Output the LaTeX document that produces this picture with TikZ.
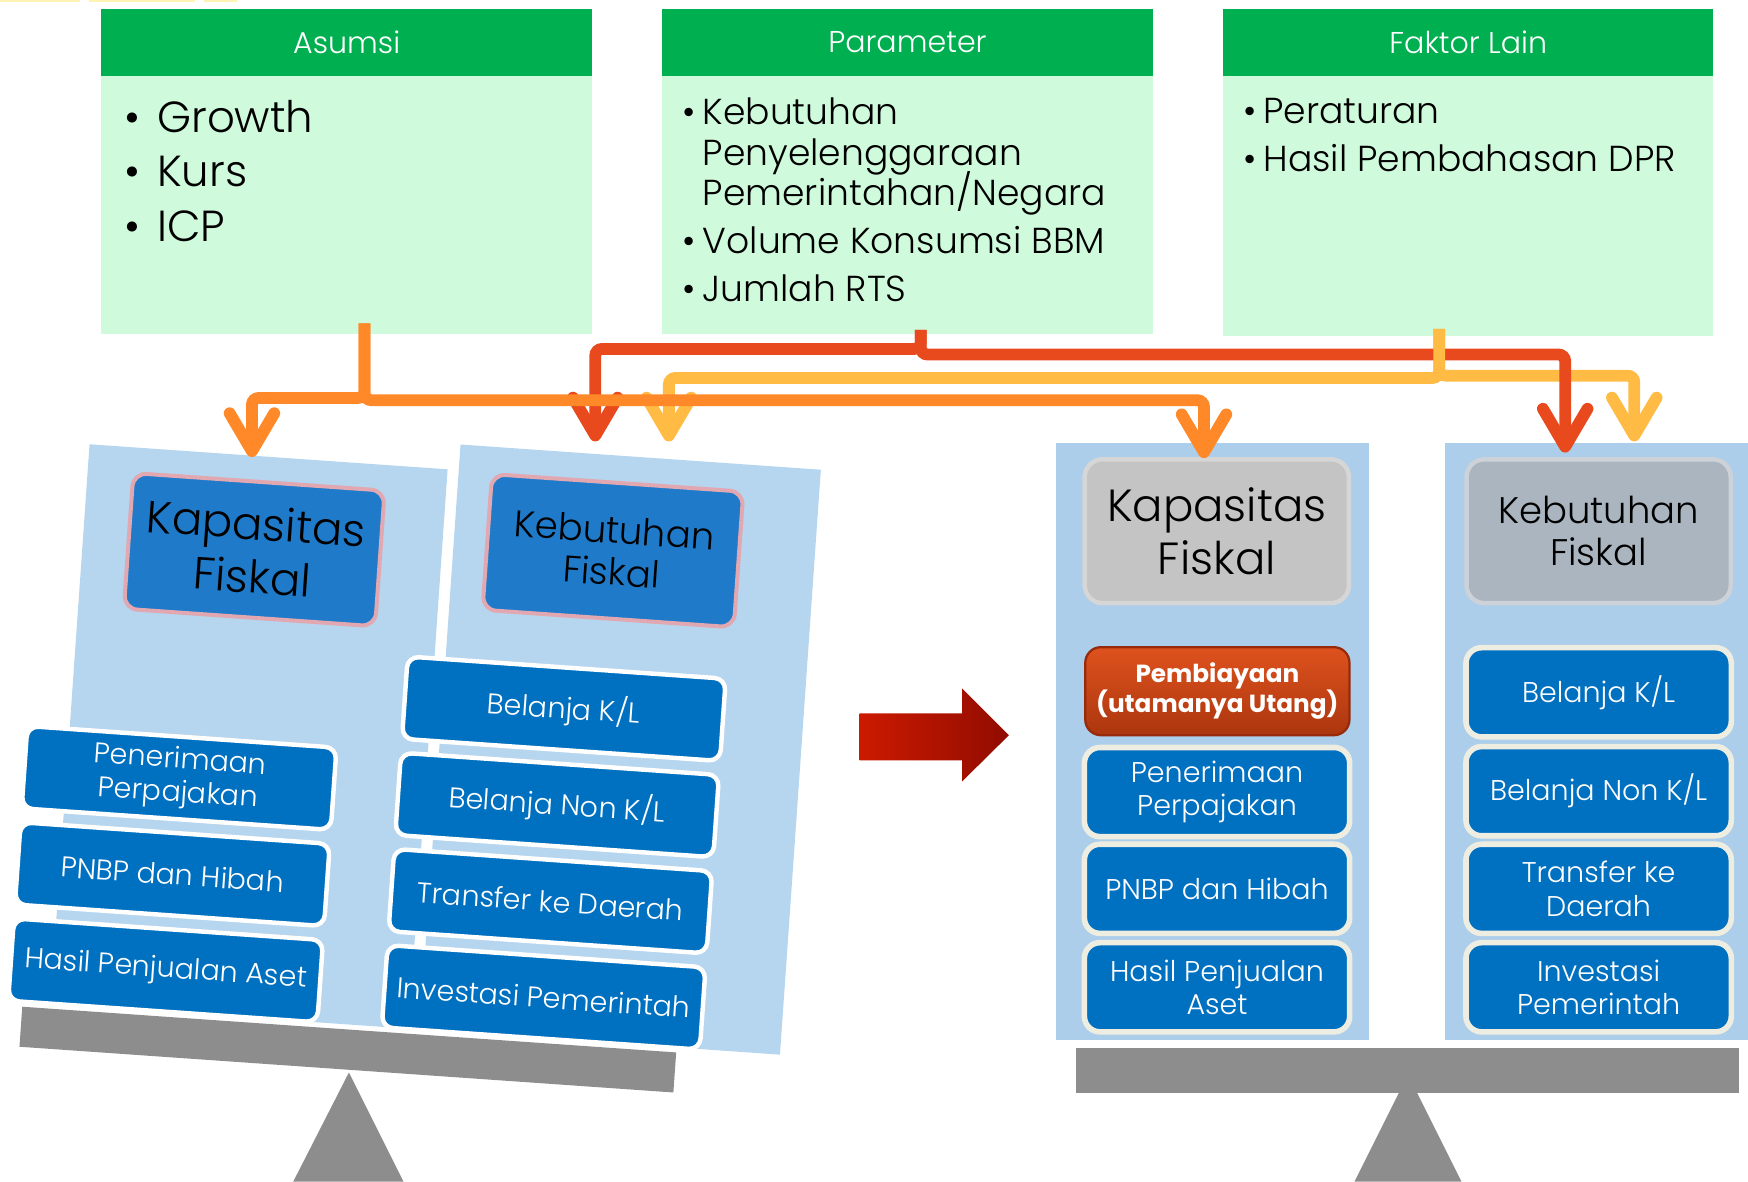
\documentclass[tikz,border=0pt]{standalone}
\usepackage{fontspec}
\setmainfont{Poppins Light}[BoldFont=Poppins Bold]
\usetikzlibrary{arrows.meta}

\definecolor{hdrgreen}{RGB}{0,176,80}
\definecolor{mint}{RGB}{207,250,220}
\definecolor{panelL}{RGB}{182,213,238}
\definecolor{panelR}{RGB}{172,206,234}
\definecolor{boxblue}{RGB}{0,112,192}
\definecolor{headblue}{RGB}{31,122,201}
\definecolor{headrim}{RGB}{226,168,178}
\definecolor{beamgray}{RGB}{141,141,141}
\definecolor{capgray}{RGB}{196,196,196}
\definecolor{caprim}{RGB}{214,214,214}
\definecolor{needgray}{RGB}{170,181,192}
\definecolor{needrim}{RGB}{204,210,216}
\definecolor{cream}{RGB}{238,237,226}
\definecolor{lineorange}{RGB}{255,136,40}
\definecolor{linered}{RGB}{232,74,30}
\definecolor{lineyellow}{RGB}{255,187,68}
\definecolor{debttop}{RGB}{222,82,30}
\definecolor{debtbot}{RGB}{172,54,14}
\definecolor{debtrim}{RGB}{150,42,10}
\definecolor{arrowA}{RGB}{204,26,0}
\definecolor{arrowB}{RGB}{145,12,0}
\definecolor{edgeyellow}{RGB}{255,243,180}

\begin{document}
\begin{tikzpicture}[x=0.5pt,y=-0.5pt,
  hdr/.style={fill=hdrgreen, text=white, font=\fontsize{13.5}{16}\selectfont,
    minimum width=220pt, minimum height=30pt, inner sep=0pt, outer sep=0pt, anchor=north west},
  bodybox/.style={fill=mint, minimum width=220pt, inner sep=0pt, outer sep=0pt, anchor=north west},
  listbig/.style={anchor=base west, inner sep=0pt, font=\fontsize{19.5}{24}\selectfont},
  listtxt/.style={anchor=base west, inner sep=0pt, font=\fontsize{16.2}{19}\selectfont},
  panelbox/.style={inner sep=0pt, outer sep=0pt},
  titleL/.style={fill=headblue, draw=headrim, line width=1.8pt, rounded corners=6pt,
    minimum width=113pt, minimum height=61pt, align=center, inner sep=0pt},
  itemL/.style={fill=boxblue, draw=white, line width=2pt, rounded corners=5pt, text=white,
    font=\fontsize{12.8}{15}\selectfont, align=center, minimum height=37pt, inner sep=0pt},
  itemR/.style={fill=boxblue, draw=cream, line width=2.5pt, rounded corners=7pt, text=white,
    font=\fontsize{12.8}{15}\selectfont, align=center, minimum width=119pt, minimum height=40pt, inner sep=0pt},
  titleR/.style={line width=2pt, rounded corners=8pt, minimum width=118.5pt, minimum height=64.5pt,
    align=center, inner sep=0pt},
  kapfont/.style={font=\fontsize{20.2}{24}\selectfont},
  kebfont/.style={font=\fontsize{16.6}{18.8}\selectfont},
  beam/.style={fill=beamgray, inner sep=0pt, outer sep=0pt},
  conn/.style={line width=5.3pt, rounded corners=3pt, -{Straight Barb[length=17pt,width=20pt,round]}},
]
\useasboundingbox (0,0) rectangle (1568,1060);

% thin marks along the top edge
\fill[edgeyellow] (0,0) rectangle (72,1.6);
\fill[edgeyellow] (80,0) rectangle (175,1.6);
\fill[edgeyellow] (183,0) rectangle (213,1.6);

% ---------- top information boxes ----------
\node[hdr] (asumsiH) at (91,8) {Asumsi};
\node[bodybox, minimum height=116pt] (asumsi) at (91,68) {};
\node[hdr] (paramH) at (594,8) {Parameter};
\node[bodybox, minimum height=116pt] (param) at (594,68) {};
\node[hdr] (faktorH) at (1097,8) {Faktor Lain};
\node[bodybox, minimum height=116.5pt] (faktor) at (1097,68) {};

\node[listbig] (a1) at (111.5,119) {\makebox[14.6pt][l]{•}Growth};
\node[listbig] (a2) at (111.5,167.5) {\makebox[14.6pt][l]{•}Kurs};
\node[listbig] (a3) at (111.5,217) {\makebox[14.6pt][l]{•}ICP};

\node[listtxt] (p1) at (612,112) {\makebox[9pt][l]{•}Kebutuhan};
\node[listtxt] (p2) at (630,148.6) {Penyelenggaraan};
\node[listtxt] (p3) at (630,184.5) {Pemerintahan/Negara};
\node[listtxt] (p4) at (612,227.8) {\makebox[9pt][l]{•}Volume Konsumsi BBM};
\node[listtxt] (p5) at (612,270.6) {\makebox[9pt][l]{•}Jumlah RTS};

\node[listtxt] (f1) at (1115,111.2) {\makebox[9pt][l]{•}Peraturan};
\node[listtxt] (f2) at (1115,154) {\makebox[9pt][l]{•}Hasil Pembahasan DPR};

% ---------- fulcrums ----------
\fill[beamgray] (313,962) -- (362,1060) -- (263,1060) -- cycle;
\fill[beamgray] (1263,964) -- (1311,1060) -- (1215,1060) -- cycle;

% ---------- tilted scale (before) ----------
\begin{scope}[rotate around={-4:(312,941.5)}, transform shape]
  \node[panelbox, fill=panelL, minimum width=161pt, minimum height=251.5pt] (panKapL) at (204,667.5) {};
  \node[panelbox, fill=panelL, minimum width=162pt, minimum height=263pt] (panKebL) at (537,656) {};
  \node[titleL, kapfont] (kapL) at (197,500) {Kapasitas\\Fiskal};
  \node[titleL, kebfont] (kebL) at (518,478.5) {Kebutuhan\\Fiskal};
  \node[itemL, minimum width=139pt] (pajakL) at (144,709) {Penerimaan\\Perpajakan};
  \node[itemL, minimum width=139pt] (pnbpL) at (144,795.5) {PNBP dan Hibah};
  \node[itemL, minimum width=139pt] (asetL) at (144,882) {Hasil Penjualan Aset};
  \node[itemL, minimum width=143pt] (klL) at (484,623) {Belanja K/L};
  \node[itemL, minimum width=143pt] (nonklL) at (484,709.5) {Belanja Non K/L};
  \node[itemL, minimum width=143pt] (tkdL) at (484,796) {Transfer ke Daerah};
  \node[itemL, minimum width=143pt] (invL) at (484,882.5) {Investasi Pemerintah};
  \node[beam, minimum width=294pt, minimum height=18pt] (beamL) at (312,941.5) {};
\end{scope}

% ---------- big arrow ----------
\shade[left color=arrowA, right color=arrowB]
  (771,640) -- (863,640) -- (863,617.5) -- (905,659.5) -- (863,701) -- (863,682) -- (771,682) -- cycle;

% ---------- balanced scale (after) ----------
\node[panelbox, fill=panelR, minimum width=140.5pt, minimum height=268pt, anchor=north west] (panKapR) at (947,397) {};
\node[panelbox, fill=panelR, minimum width=136pt, minimum height=268pt, anchor=north west] (panKebR) at (1296,397) {};
\node[titleR, fill=capgray, draw=caprim, kapfont] (kapR) at (1091.5,476.5) {Kapasitas\\Fiskal};
\node[titleR, fill=needgray, draw=needrim, kebfont] (kebR) at (1434,476.5) {Kebutuhan\\Fiskal};
\node[top color=debttop, bottom color=debtbot, draw=debtrim, line width=1pt, rounded corners=7pt,
  minimum width=118.5pt, minimum height=39.5pt, inner sep=0pt, align=center, text=white,
  font=\bfseries\fontsize{11.1}{13.2}\selectfont] (debtR) at (1092,620) {Pembiayaan\\(utamanya Utang)};
\node[itemR] (pajakR) at (1091.7,710.5) {Penerimaan\\Perpajakan};
\node[itemR] (pnbpR) at (1091.7,797.3) {PNBP dan Hibah};
\node[itemR] (asetR) at (1091.7,885.6) {Hasil Penjualan\\Aset};
\node[itemR] (klR) at (1434,621) {Belanja K/L};
\node[itemR] (nonklR) at (1434,709.7) {Belanja Non K/L};
\node[itemR] (tkdR) at (1434,797.3) {Transfer ke\\Daerah};
\node[itemR] (invR) at (1434,885.6) {Investasi\\Pemerintah};
\node[beam, minimum width=297.5pt, minimum height=20.25pt, anchor=north west] (beamR) at (965,940) {};

% ---------- connectors ----------
\coordinate (asumsiOut) at (327,290);
\coordinate (paramOut) at (826,296);
\coordinate (faktorOut) at (1291,295);
\coordinate (tipKapL) at (226,410);
\coordinate (tipKebL1) at (534,396);
\coordinate (tipKebL2) at (600,396);
\coordinate (tipKapR) at (1080,411);
\coordinate (tipKebR1) at (1404,406);
\coordinate (tipKebR2) at (1466,396);

\draw[conn, lineyellow] (faktorOut) -- ++(0,42) -| (tipKebR2);
\draw[conn, linered] (paramOut) -- ++(0,17) -| (tipKebL1);
\draw[conn, linered] (paramOut) -- ++(0,22) -| (tipKebR1);
\draw[conn, lineyellow] (faktorOut) -- ++(0,44) -| (tipKebL2);
\draw[conn, lineorange] (asumsiOut) -- ++(0,67) -| (tipKapL);
\draw[conn, lineorange] (asumsiOut) -- ++(0,69) -| (tipKapR);
\end{tikzpicture}
\end{document}
